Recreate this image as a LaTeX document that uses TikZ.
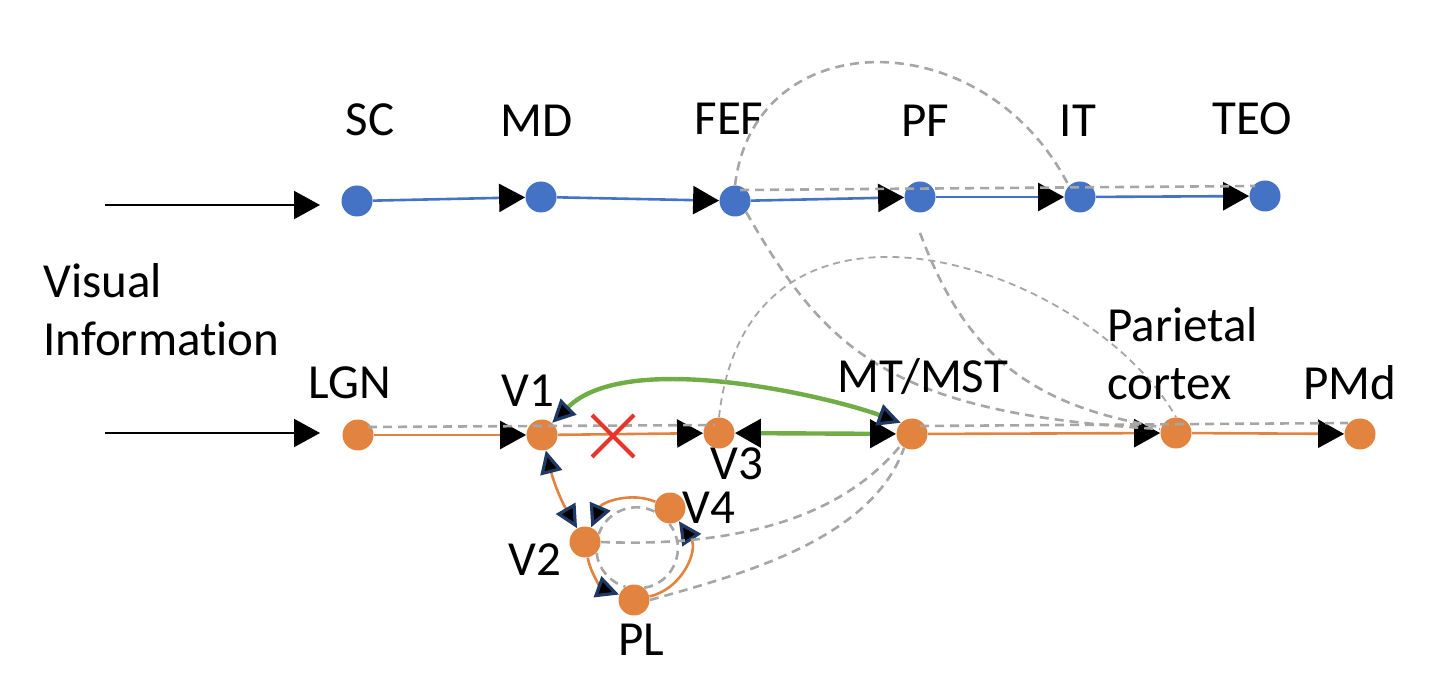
\documentclass[tikz,border=0pt]{standalone}
\usepackage{fontspec}
\setmainfont{Carlito}[Ligatures={NoCommon}, RawFeature={-liga;-clig;-calt;-dlig}]
\usetikzlibrary{arrows.meta}
\definecolor{cblue}{HTML}{4472C4}
\definecolor{corange}{RGB}{226,132,64}
\definecolor{cgreen}{HTML}{70AD47}
\definecolor{cnavy}{HTML}{1F3864}
\definecolor{cgray}{HTML}{A6A6A6}
\definecolor{cred}{HTML}{E8332A}
\tikzset{
  blacktip/.tip={Triangle[length=13pt,width=14pt,color=black]},
  navytip/.tip={Triangle[length=11.5pt,width=11pt,color=cnavy,fill=black,line width=1.6pt]},
  dot/.style={circle, minimum size=15.5pt, inner sep=0pt, fill=#1},
  lbl/.style={inner sep=0pt, anchor=base, font=\fontsize{24.5}{29}\selectfont},
  bline/.style={draw=cblue, line width=1.3pt},
  oline/.style={draw=corange, line width=1.3pt},
  gline/.style={draw=cgreen, line width=2.2pt},
  inline/.style={draw=black, line width=1.1pt},
  dsh/.style={draw=cgray, line width=1.3pt, dash pattern=on 4.5pt off 3pt},
  dshthin/.style={draw=cgray, line width=0.9pt, dash pattern=on 3.5pt off 2.5pt},
  xline/.style={draw=cred, line width=2pt},
}
\begin{document}
\begin{tikzpicture}[x=0.5pt,y=0.5pt]
\useasboundingbox (0,0) rectangle (1438,696);

% top row
\node[dot=cblue] (SC) at (357,495) {};
\node[dot=cblue] (MD) at (541,499) {};
\node[dot=cblue] (FEF) at (735,495) {};
\node[dot=cblue] (PF) at (920,499) {};
\node[dot=cblue] (IT) at (1080,499) {};
\node[dot=cblue] (TEO) at (1265,500) {};
% bottom row
\node[dot=corange] (LGN) at (358,261) {};
\node[dot=corange] (V1) at (542,261) {};
\node[dot=corange] (V3) at (719,263) {};
\node[dot=corange] (MT) at (912,262) {};
\node[dot=corange] (PAR) at (1176,263) {};
\node[dot=corange] (PMD) at (1360,262) {};
\node[dot=corange] (V2) at (585,154) {};
\node[dot=corange] (V4) at (670,188) {};
\node[dot=corange] (PL) at (634,96) {};

% inputs
\coordinate (inA) at (105,491);
\coordinate (inB) at (320,491);
\coordinate (inC) at (105,263);
\coordinate (inD) at (320,263);
\draw[inline,-blacktip] (inA) -- (inB);
\draw[inline,-blacktip] (inC) -- (inD);

% top connectors
\draw[bline,-blacktip] (SC) -- (MD);
\draw[bline,-blacktip] (MD) -- (FEF);
\draw[bline,-blacktip] (FEF) -- (PF);
\draw[bline,-blacktip] (PF) -- (IT);
\draw[bline,-blacktip] (IT) -- (TEO);

% bottom connectors
\draw[oline,-blacktip] (LGN) -- (V1);
\draw[oline,-blacktip] (V1) -- (V3);
\draw[oline,-blacktip] (MT) -- (PAR);
\draw[oline,-blacktip] (PAR) -- (PMD);
\draw[gline,blacktip-blacktip] (V3) -- (MT);
\draw[gline,navytip-navytip] (V1.50) .. controls (627,347) and (827,300) .. (MT.north west);
\draw[oline,navytip-navytip] (V1) to[bend right=8] (V2);
\draw[oline,-navytip] (V4) to[out=157, in=67, looseness=1] (V2);
\draw[oline,-navytip] (V2) to[out=280, in=160, looseness=0.91] (PL);
\draw[oline,-navytip] (PL) to[out=13, in=304, looseness=1.09] (V4);

% dashed connectors
\draw[dsh] ([shift={(5,11)}]FEF.center) -- ([shift={(-10,10)}]TEO.center);
\draw[dsh] (FEF.north) .. controls (755,675) and (985,675) .. (IT.north west);
\draw[dsh] (FEF.south east) .. controls (824,349) and (886,282) .. ([yshift=2]PAR.west);
\draw[dsh] ([yshift=-10]PF.south) .. controls (963,348) and (1024,291) .. ([yshift=3]PAR.west);
\draw[dshthin] (V3.north) .. controls (749,547) and (1090,430) .. (PAR.north);
\draw[dsh] ([shift={(10,8)}]LGN.center) -- ([shift={(-4,8)}]V3.center);
\draw[dsh] ([shift={(8,8)}]MT.center) -- ([shift={(-12,11)}]PMD.center);
\draw[dsh] (V2.east) .. controls (703,150) and (830,164) .. (MT.south west);
\draw[dsh] (PL.east) .. controls (734,120) and (871,154) .. (MT.240);
\draw[dsh] (V4.193) to[out=153, in=71, looseness=1.02] (V2.30);
\draw[dsh] (V2.-43) to[out=276, in=164, looseness=0.93] (PL.123);
\draw[dsh] (PL.50) to[out=9, in=308, looseness=1.13] (V4.268);

% red cross
\coordinate (X) at (613,260);
\draw[xline] ([shift={(-21,-21)}]X) -- ([shift={(21,21)}]X)
             ([shift={(-21,21)}]X) -- ([shift={(21,-21)}]X);

% labels
\node[lbl] (tSC) at (370,560) {SC};
\node[lbl] (tMD) at (537,559) {MD};
\node[lbl] (tFEF) at (729,561) {FEF};
\node[lbl] (tPF) at (925,559) {PF};
\node[lbl] (tIT) at (1078,559) {IT};
\node[lbl] (tTEO) at (1252,561) {TEO};
\node[lbl] (tLGN) at (350,297) {LGN};
\node[lbl] (tV1) at (528,289) {V1};
\node[lbl] (tV3) at (737,216) {V3};
\node[lbl] (tMT) at (923,303) {MT/MST};
\node[lbl] (tPMD) at (1350,296) {PMd};
\node[lbl] (tV2) at (535,121) {V2};
\node[lbl] (tV4) at (709,173) {V4};
\node[lbl] (tPL) at (641,41) {PL};
\node[lbl, anchor=base west, align=left] (tPAR) at (1107,296) {Parietal\\cortex};
\node[lbl, anchor=base west, align=left] (tVIS) at (43,340) {Visual\\Information};
\end{tikzpicture}
\end{document}
